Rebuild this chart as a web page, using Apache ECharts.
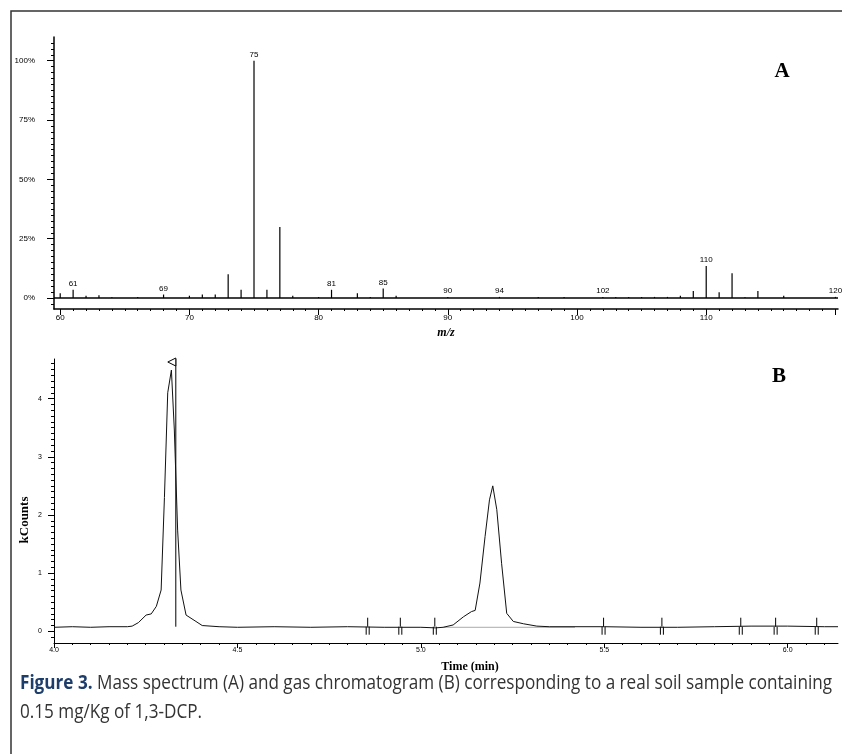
<!DOCTYPE html>
<html><head><meta charset="utf-8">
<script src="https://cdn.jsdelivr.net/npm/echarts@6/dist/echarts.min.js"></script>
<style>html,body{margin:0;padding:0;background:#fff}#c{width:842px;height:754px}</style>
</head><body><div id="c"></div>
<script>
// ---- Panel A: mass spectrum ----
const mz = [60,61,62,63,64,66,68,70,71,72,73,74,75,76,77,78,80,81,83,84,85,86,90,94,97,99,102,103,104,105,106,107,108,109,110,111,112,113,114,116,120];
const relAbund = [2,3.5,1,1.2,0.3,0.5,1.5,1,1.5,1.5,10,3.5,100,3.5,30,1,0.5,3.5,2,0.5,4,1,0.5,0.5,0.5,0.5,0.5,0.5,0.5,0.5,0.5,0.5,1,3,13.5,2.5,10.5,0.3,3,1,0.5];
const labelledMz = [61,68,75,81,85,90,94,102,110,120];
const labelTexts = ['61','69','75','81','85','90','94','102','110','120'];
const mzTicks = [60,70,80,90,100,110,120];
const mzTickLabels = [60,70,80,90,100,110];
const pctTicks = [0,25,50,75,100];

// ---- Panel B: chromatogram ----
const gcTime = [4.0,4.05,4.1,4.15,4.2,4.213,4.23,4.251,4.265,4.279,4.292,4.301,4.310,4.320,4.328,4.337,4.346,4.36,4.387,4.404,4.45,4.5,4.6,4.7,4.8,4.9,5.0,5.04,5.061,5.088,5.116,5.138,5.148,5.161,5.175,5.187,5.196,5.207,5.220,5.234,5.252,5.280,5.316,5.35,5.5,5.6,5.7,5.8,5.9,6.0,6.1,6.137];
const gcSignal = [0.07,0.08,0.07,0.08,0.08,0.09,0.15,0.28,0.30,0.43,0.71,2.3,4.1,4.49,3.46,1.74,0.71,0.28,0.17,0.10,0.08,0.07,0.08,0.07,0.08,0.07,0.07,0.06,0.07,0.11,0.25,0.34,0.36,0.83,1.63,2.26,2.5,2.09,1.17,0.31,0.17,0.13,0.09,0.08,0.08,0.07,0.07,0.08,0.09,0.09,0.08,0.08];
const intBaseTime = [5.06,5.42];
const intBaseSignal = [0.07,0.07];
const markerTimes = [4.855,4.944,5.038,5.498,5.657,5.872,5.967,6.079];
const peakMarkTime = [4.332];
const gcBase = 0.08;
const timeTicks = [4.0,4.5,5.0,5.5,6.0];
const countTicks = [0,1,2,3,4];

const captionBold = 'Figure 3.';
const captionLine1 = ' Mass spectrum (A) and gas chromatogram (B) corresponding to a real soil sample containing';
const captionLine2 = '0.15 mg/Kg of 1,3-DCP.';

function range(a, b, step, excl) {
  const out = [];
  for (let v = a; v <= b + 1e-9; v += step) {
    const r = Math.round(v * 1000) / 1000;
    if (!excl.some(e => Math.abs(e - r) < 1e-6)) out.push(r);
  }
  return out;
}

const capFam = '"Open Sans", "Noto Sans", sans-serif';
const capSize = 20;
const mctx = document.createElement('canvas').getContext('2d');
mctx.font = 'bold ' + capSize + 'px ' + capFam;
const wb = mctx.measureText(captionBold).width;
mctx.font = capSize + 'px ' + capFam;
const wr = mctx.measureText(captionLine1).width;
const capScale = (832 - 20) / (wb + wr);

const chart = echarts.init(document.getElementById('c'), null, {renderer: 'canvas'});
const sans = 'Liberation Sans, Arial, sans-serif';
const serif = 'Liberation Serif, Times New Roman, serif';
const black = '#000';

const axisBase = (gridIndex, min, max, position) => ({
  gridIndex, type: 'value', min, max, position, offset: 0, splitLine: {show: false}
});

const option = {
  animation: false,
  backgroundColor: '#fff',
  grid: [
    {left: 54, right: 4, top: 37, height: 272},
    {left: 54, right: 4, top: 359, height: 284}
  ],
  xAxis: [
    Object.assign(axisBase(0, 59.52, 120.2, 'bottom'), {
      axisLine: {show: true, onZero: false, lineStyle: {color: black, width: 1.5}},
      axisTick: {show: true, customValues: mzTicks, length: 6, lineStyle: {color: black}},
      axisLabel: {show: true, customValues: mzTickLabels, fontSize: 8, fontFamily: sans, color: black, margin: 5},
      name: 'm/z', nameLocation: 'middle', nameGap: 18,
      nameTextStyle: {fontFamily: serif, fontStyle: 'italic', fontWeight: 'bold', fontSize: 12, color: black}
    }),
    Object.assign(axisBase(0, 59.52, 120.2, 'bottom'), {
      axisLine: {show: false, onZero: false},
      axisTick: {show: true, customValues: range(60, 120, 1, mzTicks), length: 2, lineStyle: {color: black}},
      axisLabel: {show: false}
    }),
    Object.assign(axisBase(1, 4.0, 6.137, 'bottom'), {
      axisLine: {show: true, onZero: false, lineStyle: {color: black, width: 1}},
      axisTick: {show: true, customValues: timeTicks, length: 5, lineStyle: {color: black}},
      axisLabel: {show: true, customValues: timeTicks, fontSize: 7, fontFamily: sans, color: black, margin: 4,
        formatter: v => v.toFixed(1)}
    }),
    Object.assign(axisBase(1, 4.0, 6.137, 'bottom'), {
      axisLine: {show: false, onZero: false},
      axisTick: {show: true, customValues: range(4.0, 6.137, 0.05, timeTicks), length: 2, lineStyle: {color: black}},
      axisLabel: {show: false}
    })
  ],
  yAxis: [
    Object.assign(axisBase(0, -4.6, 110, 'left'), {
      axisLine: {show: true, onZero: false, lineStyle: {color: black, width: 1.5}},
      axisTick: {show: true, customValues: pctTicks, length: 7, lineStyle: {color: black}},
      axisLabel: {show: true, customValues: pctTicks, fontSize: 8, fontFamily: sans, color: black, margin: 19,
        formatter: v => v + '%'}
    }),
    Object.assign(axisBase(0, -4.6, 110, 'left'), {
      axisLine: {show: false, onZero: false},
      axisTick: {show: true, customValues: range(-2.5, 107.5, 2.5, pctTicks), length: 3, lineStyle: {color: black}},
      axisLabel: {show: false}
    }),
    Object.assign(axisBase(1, -0.2, 4.68, 'left'), {
      axisLine: {show: true, onZero: false, lineStyle: {color: black, width: 1}},
      axisTick: {show: true, customValues: countTicks, length: 6, lineStyle: {color: black}},
      axisLabel: {show: true, customValues: countTicks, fontSize: 7, fontFamily: sans, color: black, margin: 12}
    }),
    Object.assign(axisBase(1, -0.2, 4.68, 'left'), {
      axisLine: {show: false, onZero: false},
      axisTick: {show: true, customValues: range(-0.1, 4.6, 0.1, countTicks), length: 3, lineStyle: {color: black}},
      axisLabel: {show: false}
    })
  ],
  series: [
    {
      type: 'bar', xAxisIndex: 0, yAxisIndex: 0, barWidth: 1.2,
      itemStyle: {color: black},
      data: mz.map((m, i) => {
        const k = labelledMz.indexOf(m);
        return {
          value: [m, relAbund[i]],
          label: k >= 0 ? {show: true, position: 'top', distance: 2, formatter: labelTexts[k],
            fontSize: 8, fontFamily: sans, color: black} : {show: false}
        };
      }),
      markLine: {
        silent: true, symbol: 'none', label: {show: false},
        lineStyle: {color: black, width: 1.5, type: 'solid'},
        data: [{yAxis: 0}]
      }
    },
    {
      type: 'line', xAxisIndex: 2, yAxisIndex: 2, symbol: 'none',
      lineStyle: {color: '#aaa', width: 1},
      data: intBaseTime.map((t, i) => [t, intBaseSignal[i]])
    },
    {
      type: 'line', xAxisIndex: 2, yAxisIndex: 2, symbol: 'none',
      lineStyle: {color: '#111', width: 1},
      data: gcTime.map((t, i) => [t, gcSignal[i]])
    },
    {
      type: 'custom', xAxisIndex: 2, yAxisIndex: 2,
      data: markerTimes.map(t => [t, gcBase]),
      renderItem: (params, api) => {
        const p = api.coord([api.value(0), api.value(1)]);
        const s = {stroke: black, lineWidth: 1, fill: null};
        return {type: 'group', children: [
          {type: 'line', shape: {x1: p[0], y1: p[1] - 9, x2: p[0], y2: p[1]}, style: s},
          {type: 'line', shape: {x1: p[0] - 1.5, y1: p[1], x2: p[0] - 1.5, y2: p[1] + 8}, style: s},
          {type: 'line', shape: {x1: p[0] + 1.5, y1: p[1], x2: p[0] + 1.5, y2: p[1] + 8}, style: s}
        ]};
      }
    },
    {
      type: 'custom', xAxisIndex: 2, yAxisIndex: 2,
      data: peakMarkTime.map(t => [t, gcBase]),
      renderItem: (params, api) => {
        const p = api.coord([api.value(0), api.value(1)]);
        const top = api.coord([api.value(0), 4.68]);
        return {type: 'group', children: [
          {type: 'line', shape: {x1: p[0], y1: p[1], x2: top[0], y2: top[1]}, style: {stroke: black, lineWidth: 1}},
          {type: 'polygon', shape: {points: [[top[0], top[1] - 1], [top[0], top[1] + 7], [top[0] - 8, top[1] + 3]]},
            style: {stroke: black, lineWidth: 1, fill: '#fff'}}
        ]};
      }
    }
  ],
  graphic: [
    {type: 'rect', shape: {x: 11, y: 11, width: 900, height: 900}, style: {fill: null, stroke: '#333', lineWidth: 1.5}, silent: true},
    {type: 'text', x: 782, y: 72, style: {text: 'A', font: 'bold 21px ' + serif, fill: black, textAlign: 'center', textVerticalAlign: 'middle'}},
    {type: 'text', x: 779, y: 377, style: {text: 'B', font: 'bold 21px ' + serif, fill: black, textAlign: 'center', textVerticalAlign: 'middle'}},
    {type: 'text', x: 25, y: 520, rotation: Math.PI / 2, style: {text: 'kCounts', font: 'bold 13px ' + serif, fill: black, textAlign: 'center', textVerticalAlign: 'middle'}},
    {type: 'text', x: 470, y: 667, style: {text: 'Time (min)', font: 'bold 12px ' + serif, fill: black, textAlign: 'center', textVerticalAlign: 'middle'}},
    {type: 'text', x: 20, y: 683, scaleX: capScale, style: {
      text: '{b|' + captionBold + '}' + captionLine1,
      font: capSize + 'px ' + capFam, fill: '#333', textVerticalAlign: 'middle',
      rich: {b: {font: 'bold ' + capSize + 'px ' + capFam, fill: '#1d3d6b'}}
    }},
    {type: 'text', x: 20, y: 712, scaleX: capScale, style: {
      text: captionLine2,
      font: capSize + 'px ' + capFam, fill: '#333', textVerticalAlign: 'middle'
    }}
  ]
};
chart.setOption(option);
</script></body></html>
